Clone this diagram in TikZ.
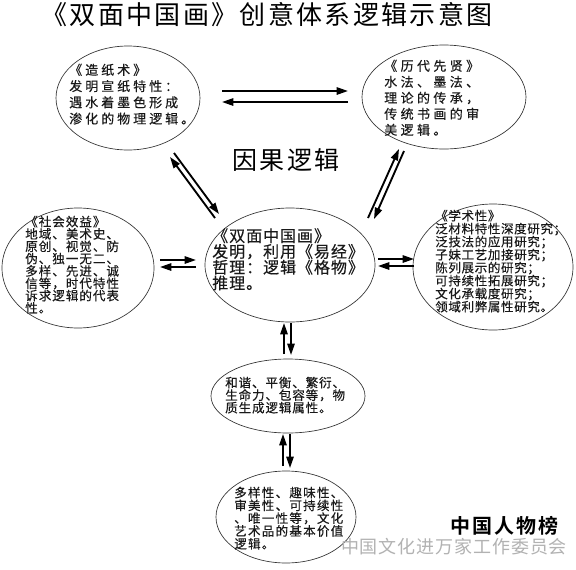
\documentclass[tikz,border=0pt]{standalone}
\usepackage{fontspec}
\newfontfamily\cjk{Noto Sans CJK SC}[FakeBold=0.3]
\newfontfamily\cjkt{Noto Sans CJK SC}
\newfontfamily\cjkb{Noto Sans CJK SC Bold}
\usetikzlibrary{shapes.geometric,arrows.meta}
\tikzset{
  oval/.style={ellipse, draw=black!80, line width=0.5pt, inner sep=0pt},
  txt/.style={anchor=north west, inner sep=0pt, align=left, text=black!90},
  dbl/.style={line width=1.4pt, -{Triangle[length=8.5pt,width=5.5pt]}},
}
\begin{document}
\begin{tikzpicture}[x=0.75pt,y=-0.75pt]
\useasboundingbox (0,0) rectangle (576,569);
\fill[white] (0,0) rectangle (576,569);
% title
\node[inner sep=0pt, font={\cjkt\fontsize{19.5}{22}\selectfont\addfontfeature{LetterSpace=9}}] (title) at (267,15) {《双面中国画》创意体系逻辑示意图};
% ellipses
\node[oval, minimum width=108pt, minimum height=78pt] (e1) at (128,98) {};
\node[oval, minimum width=123pt, minimum height=78pt] (e2) at (444,97) {};
\node[oval, minimum width=114pt, minimum height=90pt] (el) at (78,268) {};
\node[oval, minimum width=127.5pt, minimum height=85.5pt] (ec) at (290,265) {};
\node[oval, minimum width=120pt, minimum height=94.5pt] (er) at (493,267) {};
\node[oval, minimum width=115.5pt, minimum height=55.5pt] (e5) at (288,396) {};
\node[oval, minimum width=105pt, minimum height=69pt] (e6) at (286,517) {};
% texts
\node[txt, font={\cjk\fontsize{9.75}{12.2}\selectfont\addfontfeature{LetterSpace=23}}] (t1) at (69,63.5)
 {《造纸术》\\发明宣纸特性：\\遇水着墨色形成\\渗化的物理逻辑。};
\node[txt, font={\cjk\fontsize{9.75}{12}\selectfont\addfontfeature{LetterSpace=26}}] (t2) at (384,59.5)
 {《历代先贤》\\水法、墨法、\\理论的传承，\\传统书画的审\\美逻辑。};
\node[txt, font={\cjk\fontsize{12}{11.8}\selectfont\addfontfeature{LetterSpace=6}}] (tc) at (212,228)
 {《双面中国画》\\发明，利用《易经》\\哲理：逻辑《格物》\\推理。};
\node[txt, font={\cjk\fontsize{9.4}{9.25}\selectfont\addfontfeature{LetterSpace=8}}] (tl) at (25,215.5)
 {《社会效益》\\地域、美术史、\\原创、视觉、防\\伪、独一无二、\\多样、先进、诚\\信等，时代特性\\诉求逻辑的代表\\性。};
\node[txt, font={\cjk\fontsize{9.4}{9.75}\selectfont\addfontfeature{LetterSpace=5}}] (tr) at (435,209.5)
 {《学术性》\\泛材料特性深度研究；\\泛技法的应用研究；\\子妹工艺加接研究；\\陈列展示的研究；\\可持续性拓展研究；\\文化承载度研究；\\领域利弊属性研究。};
\node[txt, font={\cjk\fontsize{9.4}{9.4}\selectfont\addfontfeature{LetterSpace=7}}] (t5) at (225,376.5)
 {和谐、平衡、繁衍、\\生命力、包容等，物\\质生成逻辑属性。};
\node[txt, font={\cjk\fontsize{9.4}{9.6}\selectfont\addfontfeature{LetterSpace=10}}] (t6) at (234,486.5)
 {多样性、趣味性、\\审美性、可持续性\\、唯一性等，文化\\艺术品的基本价值\\逻辑。};
% causal label
\node[inner sep=0pt, font={\cjkt\fontsize{18.75}{20}\selectfont\addfontfeature{LetterSpace=10}}] (cause) at (286,160) {因果逻辑};
% watermark
\node[inner sep=0pt, font={\cjkb\fontsize{15}{16}\selectfont\addfontfeature{LetterSpace=10}}] (wm1) at (504,526) {中国人物榜};
\node[inner sep=0pt, text=black!30, font={\cjkt\fontsize{13.5}{15}\selectfont\addfontfeature{LetterSpace=5}}] (wm2) at (454,547) {中国文化进万家工作委员会};
% arrow end points
\coordinate (a1s) at (222,91);  \coordinate (a1e) at (348,91);
\coordinate (a2s) at (348,102); \coordinate (a2e) at (222,102);
\coordinate (b1s) at (174,153); \coordinate (b1e) at (219,214);
\coordinate (b2s) at (215,218); \coordinate (b2e) at (170,157);
\coordinate (c1s) at (368,218); \coordinate (c1e) at (399,149);
\coordinate (c2s) at (404,151); \coordinate (c2e) at (374,219);
\coordinate (d1s) at (160,260); \coordinate (d1e) at (196,260);
\coordinate (d2s) at (196,267); \coordinate (d2e) at (160,267);
\coordinate (f1s) at (378,259); \coordinate (f1e) at (414,259);
\coordinate (f2s) at (414,266); \coordinate (f2e) at (378,266);
\coordinate (g1s) at (284,354); \coordinate (g1e) at (284,323);
\coordinate (g2s) at (291,323); \coordinate (g2e) at (291,355);
\coordinate (h1s) at (283,466); \coordinate (h1e) at (283,434);
\coordinate (h2s) at (290,434); \coordinate (h2e) at (290,468);
\foreach \p in {a1,a2,b1,b2,c1,c2,d1,d2,f1,f2,g1,g2,h1,h2}
  \draw[dbl] (\p s) -- (\p e);
\end{tikzpicture}
\end{document}
